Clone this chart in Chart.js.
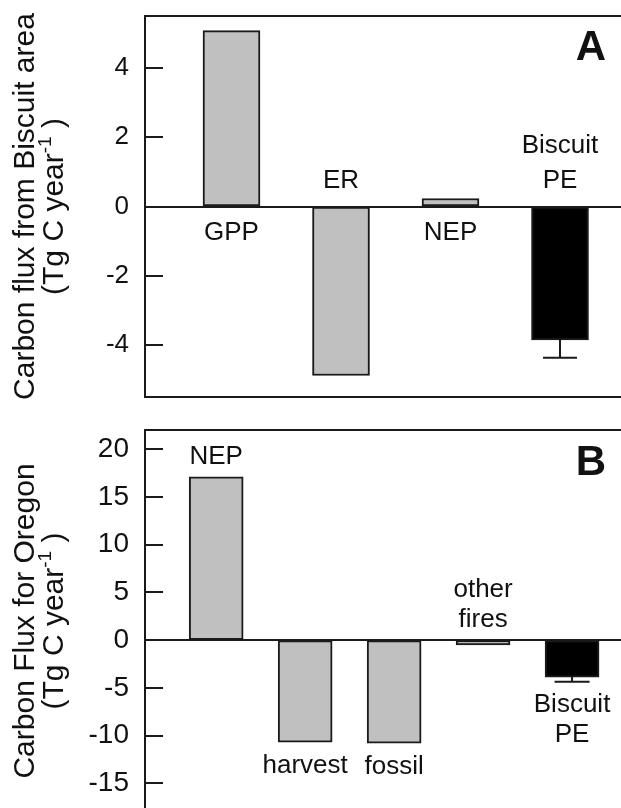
<!DOCTYPE html>
<html>
<head>
<meta charset="utf-8">
<script src="https://cdn.jsdelivr.net/npm/chart.js@4.4.1/dist/chart.umd.min.js"></script>
<style>
  html, body { margin: 0; padding: 0; background: #fff; overflow: hidden; }
  #wrap { position: relative; width: 621px; height: 808px; overflow: hidden; }
  #chartA { position: absolute; left: 0; top: 0; }
  #chartB { position: absolute; left: 0; top: 400px; }
</style>
</head>
<body>
<div id="wrap">
  <canvas id="chartA" width="621" height="400"></canvas>
  <canvas id="chartB" width="621" height="414"></canvas>
</div>
<script>
// Panel A - Biscuit area
const catsA = [['GPP'], ['ER'], ['NEP'], ['Biscuit', 'PE']];
const fluxA = [5.08, -4.88, 0.23, -3.85];
const errA = [0, 0, 0, 0.52];
const ticksA = [-4, -2, 0, 2, 4];

// Panel B - Oregon
const catsB = [['NEP'], ['harvest'], ['fossil'], ['other', 'fires'], ['Biscuit', 'PE']];
const fluxB = [17.1, -10.7, -10.8, -0.5, -3.87];
const errB = [0, 0, 0, 0, 0.5];
const ticksB = [-15, -10, -5, 0, 5, 10, 15, 20];

const fontFam = "'Liberation Sans', Arial, Helvetica, sans-serif";
const ink = '#1a1a1a';

// frame, zero line, inward ticks, error bars, bar labels, panel letter, axis title
const panelDeco = {
    id: 'panelDeco',
    afterDatasetsDraw(chart, args, o) {
        const ctx = chart.ctx;
        const area = chart.chartArea;
        const ys = chart.scales.y;
        const meta = chart.getDatasetMeta(0);
        const vals = chart.data.datasets[0].data.map(d => d.y);

        ctx.save();
        ctx.strokeStyle = ink;
        ctx.lineWidth = 2;
        ctx.beginPath();
        ctx.moveTo(area.left, area.top);
        ctx.lineTo(area.right, area.top);
        if (o.bottomFrame) {
            ctx.moveTo(area.left, area.bottom);
            ctx.lineTo(area.right, area.bottom);
        }
        const y0 = Math.round(ys.getPixelForValue(0));
        ctx.moveTo(area.left, y0);
        ctx.lineTo(area.right, y0);
        ys.ticks.forEach(t => {
            const y = Math.round(ys.getPixelForValue(t.value));
            ctx.moveTo(area.left, y);
            ctx.lineTo(area.left + o.tickLen, y);
        });
        ctx.stroke();

        // error bars, pointing away from zero
        ctx.beginPath();
        o.err.forEach((e, i) => {
            if (!e) return;
            const bar = meta.data[i];
            const v = vals[i];
            const yEnd = ys.getPixelForValue(v + Math.sign(v) * e);
            ctx.moveTo(bar.x, bar.y);
            ctx.lineTo(bar.x, yEnd);
            ctx.moveTo(bar.x - o.capW / 2, yEnd);
            ctx.lineTo(bar.x + o.capW / 2, yEnd);
        });
        ctx.stroke();

        // category labels
        ctx.fillStyle = '#111';
        ctx.font = o.labelSize + 'px ' + fontFam;
        ctx.textAlign = 'center';
        ctx.textBaseline = 'alphabetic';
        const cap = o.labelSize * 0.716;
        o.cats.forEach((lines, i) => {
            const bar = meta.data[i];
            const v = vals[i];
            let anchor, below;
            if (o.place[i] === 'opposite') {
                anchor = y0;
                below = v >= 0;
            } else {
                anchor = ys.getPixelForValue(v + Math.sign(v) * (o.err[i] || 0));
                below = v < 0;
            }
            const n = lines.length;
            lines.forEach((txt, k) => {
                const y = below
                    ? anchor + o.gapBelow + cap + k * o.lineH
                    : anchor - o.gapAbove - (n - 1 - k) * o.lineH;
                ctx.fillText(txt, bar.x, y);
            });
        });

        // panel letter
        ctx.font = 'bold ' + o.letterSize + 'px ' + fontFam;
        ctx.textAlign = 'right';
        ctx.textBaseline = 'middle';
        ctx.fillText(o.letter, area.right - 15, area.top + o.letterDy);

        // rotated two-line axis title with superscript
        const cy = (area.top + area.bottom) / 2;
        ctx.save();
        ctx.translate(o.titleX[0], cy);
        ctx.rotate(-Math.PI / 2);
        ctx.font = '30px ' + fontFam;
        ctx.textAlign = 'center';
        ctx.textBaseline = 'alphabetic';
        ctx.fillText(o.title, 0, 0);
        ctx.restore();

        ctx.save();
        ctx.translate(o.titleX[1], cy);
        ctx.rotate(-Math.PI / 2);
        ctx.textBaseline = 'alphabetic';
        ctx.textAlign = 'left';
        const p1 = '(Tg C year', sup = '-1', p3 = ' )';
        ctx.font = '30px ' + fontFam;
        const w1 = ctx.measureText(p1).width;
        const w3 = ctx.measureText(p3).width;
        ctx.font = '19px ' + fontFam;
        const ws = ctx.measureText(sup).width;
        let x = -(w1 + ws + w3) / 2;
        ctx.font = '30px ' + fontFam;
        ctx.fillText(p1, x, 0);
        x += w1;
        ctx.font = '19px ' + fontFam;
        ctx.fillText(sup, x, -12);
        x += ws;
        ctx.font = '30px ' + fontFam;
        ctx.fillText(p3, x, 0);
        ctx.restore();

        ctx.restore();
    }
};

function makePanel(canvasId, cats, vals, err, ticks, cfg) {
    const colors = cats.map(c => c[0] === 'Biscuit' ? '#000000' : '#c0c0c0');
    return new Chart(document.getElementById(canvasId), {
        type: 'bar',
        data: {
            datasets: [{
                data: vals.map((v, i) => ({ x: i + 1, y: v })),
                backgroundColor: colors,
                borderColor: ink,
                borderWidth: 2,
                borderSkipped: false,
                barThickness: cfg.barW
            }]
        },
        options: {
            responsive: false,
            animation: false,
            events: [],
            layout: { padding: { top: cfg.padTop, bottom: cfg.padBottom, left: 0, right: 0 } },
            plugins: {
                legend: { display: false },
                tooltip: { enabled: false },
                panelDeco: {
                    cats: cats, err: err, place: cfg.place,
                    tickLen: 18, capW: cfg.capW,
                    labelSize: 26, lineH: cfg.lineH,
                    gapAbove: cfg.gapAbove, gapBelow: cfg.gapBelow,
                    letter: cfg.letter, letterSize: 42, letterDy: cfg.letterDy,
                    title: cfg.title, titleX: [34, 63],
                    bottomFrame: cfg.bottomFrame
                }
            },
            scales: {
                x: {
                    type: 'linear',
                    display: false,
                    offset: false,
                    min: cfg.xMin,
                    max: cfg.xMax
                },
                y: {
                    min: cfg.yMin,
                    max: cfg.yMax,
                    afterBuildTicks: s => { s.ticks = ticks.map(v => ({ value: v })); },
                    afterFit: s => { s.width = 145; s.paddingTop = 0; s.paddingBottom = 0; },
                    grid: { drawOnChartArea: false, drawTicks: false },
                    border: { display: true, color: ink, width: 2 },
                    ticks: {
                        padding: 16,
                        color: '#111',
                        font: { family: fontFam, size: cfg.tickSize },
                        callback: v => String(v)
                    }
                }
            }
        },
        plugins: [panelDeco]
    });
}

makePanel('chartA', catsA, fluxA, errA, ticksA, {
    barW: 57, capW: 34, xMin: 0.21, xMax: 4.557,
    yMin: -5.5, yMax: 5.5, padTop: 16, padBottom: 3,
    place: ['opposite', 'opposite', 'opposite', 'opposite'],
    lineH: 35, gapAbove: 19, gapBelow: 14, tickSize: 26,
    letter: 'A', letterDy: 32, bottomFrame: true,
    title: 'Carbon flux from Biscuit area'
});

makePanel('chartB', catsB, fluxB, errB, ticksB, {
    barW: 54, capW: 35, xMin: 0.2, xMax: 5.55,
    yMin: -18, yMax: 22, padTop: 30, padBottom: 2,
    place: ['end', 'end', 'end', 'opposite', 'end'],
    lineH: 30, gapAbove: 13, gapBelow: 12, tickSize: 28,
    letter: 'B', letterDy: 33, bottomFrame: false,
    title: 'Carbon Flux for Oregon'
});
</script>
</body>
</html>
